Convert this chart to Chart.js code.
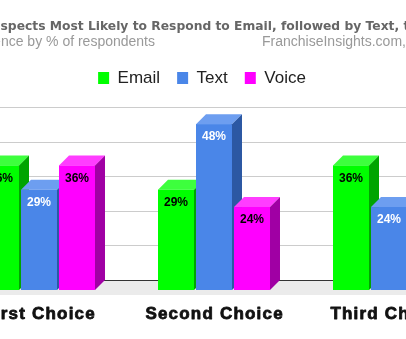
<!DOCTYPE html>
<html>
<head>
<meta charset="utf-8">
<script src="https://cdn.jsdelivr.net/npm/chart.js@4.4.1/dist/chart.umd.min.js"></script>
<style>
  html, body { margin: 0; padding: 0; overflow: hidden; background: #fff; }
  #wrap { position: absolute; left: -83px; top: 0; width: 570px; height: 339px; }
</style>
</head>
<body>
<div id="wrap"><canvas id="channelChart" width="570" height="339"></canvas></div>
<script>
// Survey results: preferred contact channel, % of respondents
const choices = ['First Choice', 'Second Choice', 'Third Choice'];
const channels = ['Email', 'Text', 'Voice'];
const emailPct = [36, 29, 36];
const textPct = [29, 48, 24];
const voicePct = [36, 24, 40];
const yTicks = [0, 10, 20, 30, 40, 50];

const titleText = 'Prospects Most Likely to Respond to Email, followed by Text, then Voice';
const subtitleText = 'Preference by % of respondents';
const sourceText = 'FranchiseInsights.com, 2022';

const DEPTH = 10;

// front / top / right-side face colours for each series
const faces = [
    { front: '#00ff00', top: '#3dff3d', side: '#00a400', label: '#000' },
    { front: '#4a86e8', top: '#6d9ef0', side: '#2c58a3', label: '#fff' },
    { front: '#ff00ff', top: '#ff3dff', side: '#a000a4', label: '#000' }
];

Chart.defaults.font.family = 'Arial, "Liberation Sans", sans-serif';

// floor + back-wall grid, then the extruded bars on top
const cubeBars = {
    id: 'cubeBars',
    beforeDatasetsDraw(chart) {
        const { ctx, chartArea: area, scales: { y } } = chart;
        const base = y.getPixelForValue(0);
        ctx.save();
        ctx.fillStyle = '#ebebeb';
        ctx.beginPath();
        ctx.moveTo(area.left, base);
        ctx.lineTo(area.left + DEPTH, base - DEPTH);
        ctx.lineTo(area.right + DEPTH, base - DEPTH);
        ctx.lineTo(area.right, base);
        ctx.closePath();
        ctx.fill();
        ctx.fillRect(area.left, base, area.right - area.left, 5);

        ctx.lineWidth = 1;
        y.ticks.forEach(t => {
            const py = Math.round(y.getPixelForValue(t.value) - DEPTH) + 0.5;
            ctx.strokeStyle = t.value === 0 ? '#333333' : '#cccccc';
            ctx.beginPath();
            ctx.moveTo(area.left + DEPTH, py);
            ctx.lineTo(area.right + DEPTH, py);
            ctx.stroke();
        });
        ctx.restore();
    },
    afterDatasetsDraw(chart) {
        const { ctx } = chart;
        const metas = chart.data.datasets.map((_, i) => chart.getDatasetMeta(i));
        ctx.save();
        // left to right so each bar covers the side face of its neighbour
        for (let c = 0; c < choices.length; c++) {
            metas.forEach((meta, d) => {
                const bar = meta.data[c];
                const f = faces[d];
                const left = bar.x - bar.width / 2;
                const right = bar.x + bar.width / 2;
                const top = bar.y;
                const bottom = bar.base;

                ctx.fillStyle = f.front;
                ctx.fillRect(left, top, right - left, bottom - top);

                ctx.fillStyle = f.top;
                ctx.beginPath();
                ctx.moveTo(left, top);
                ctx.lineTo(left + DEPTH, top - DEPTH);
                ctx.lineTo(right + DEPTH, top - DEPTH);
                ctx.lineTo(right, top);
                ctx.closePath();
                ctx.fill();

                ctx.fillStyle = f.side;
                ctx.beginPath();
                ctx.moveTo(right, top);
                ctx.lineTo(right + DEPTH, top - DEPTH);
                ctx.lineTo(right + DEPTH, bottom - DEPTH);
                ctx.lineTo(right, bottom);
                ctx.closePath();
                ctx.fill();
            });
        }

        // value labels inside the bars
        ctx.font = 'bold 12px Arial, "Liberation Sans", sans-serif';
        ctx.textAlign = 'center';
        ctx.textBaseline = 'middle';
        metas.forEach((meta, d) => {
            meta.data.forEach((bar, i) => {
                ctx.fillStyle = faces[d].label;
                ctx.fillText(chart.data.datasets[d].data[i] + '%', bar.x, bar.y + 13);
            });
        });
        ctx.restore();
    },
    afterDraw(chart) {
        const { ctx, scales: { x } } = chart;
        ctx.save();
        // header
        ctx.textBaseline = 'alphabetic';
        ctx.textAlign = 'left';
        ctx.fillStyle = '#666666';
        ctx.font = 'bold 12.3px "DejaVu Sans", Verdana, sans-serif';
        ctx.fillText(titleText, 60, 30);
        ctx.fillStyle = '#999999';
        ctx.font = '14px Arial, "Liberation Sans", sans-serif';
        ctx.fillText(subtitleText, 38, 46);
        ctx.fillText(sourceText, 345, 46);

        // category names under the floor, heavy and spaced out
        ctx.fillStyle = '#111111';
        ctx.strokeStyle = '#111111';
        ctx.lineWidth = 0.8;
        ctx.lineJoin = 'round';
        ctx.font = 'bold 17px Arial, "Liberation Sans", sans-serif';
        ctx.letterSpacing = '1.2px';
        ctx.textAlign = 'center';
        choices.forEach((name, i) => {
            const px = x.getPixelForValue(i) + 0.6;
            ctx.fillText(name, px, 318.5);
            ctx.strokeText(name, px, 318.5);
        });
        ctx.restore();
    }
};

const datasets = [emailPct, textPct, voicePct].map((values, i) => ({
    label: channels[i],
    data: values,
    backgroundColor: faces[i].front,
    borderWidth: 0,
    categoryPercentage: 0.6514,
    barPercentage: 0.9474
}));

new Chart(document.getElementById('channelChart'), {
    type: 'bar',
    data: { labels: choices, datasets: datasets },
    options: {
        responsive: false,
        animation: false,
        layout: { padding: { top: 52.5, left: 10.5, right: 10.5, bottom: 49 } },
        plugins: {
            legend: {
                position: 'top',
                labels: {
                    boxWidth: 11,
                    boxHeight: 12,
                    padding: 17,
                    color: '#222222',
                    font: { size: 17 }
                }
            },
            tooltip: { enabled: false }
        },
        scales: {
            x: { display: false },
            y: {
                min: 0,
                max: 56,
                grid: { display: false },
                border: { display: false },
                ticks: { stepSize: 10, callback: v => v + '%' },
                afterBuildTicks: axis => {
                    axis.ticks = yTicks.map(v => ({ value: v }));
                },
                afterFit: axis => { axis.width = 24; }
            }
        }
    },
    plugins: [cubeBars]
});
</script>
</body>
</html>
